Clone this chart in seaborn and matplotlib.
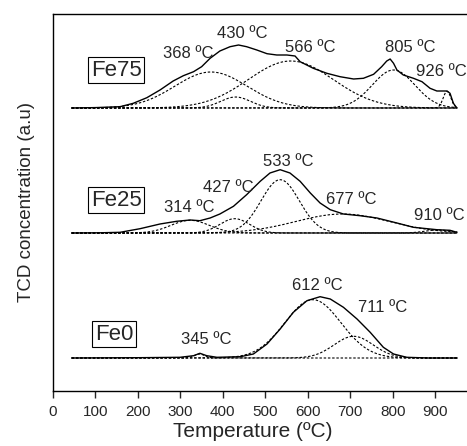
import numpy as np
import pandas as pd
import matplotlib
matplotlib.use("Agg")
import matplotlib.pyplot as plt
import seaborn as sns

# ---------------- data ----------------
samples = ["Fe0", "Fe25", "Fe75"]
offsets = {"Fe0": 33, "Fe25": 158, "Fe75": 283}

# measured (total) TCD profiles: temperature (ºC) and signal above baseline (a.u.)
fe75_T = [44, 100, 158, 189, 221, 252, 283, 307, 331, 350, 370, 393, 417, 437, 456,
          480, 504, 527, 551, 570, 582, 613, 645, 676, 708, 731, 755, 774, 786, 794,
          802, 810, 825, 849, 869, 888, 904, 928, 935, 943, 951]
fe75_h = [0, 0.4, 1.3, 4.7, 10.3, 18, 27, 32.3, 36.3, 41.3, 49.7, 57, 61.3, 63, 61.3,
          58, 54.3, 53, 53, 52, 46.3, 39.7, 34.7, 31.3, 29, 29.7, 33.7, 41.3, 47, 49,
          44.7, 38, 33, 29.7, 26.3, 19.7, 17, 17, 14.7, 4.7, 0]

fe25_T = [44, 110, 158, 205, 252, 291, 323, 346, 370, 393, 425, 456, 488, 511, 535,
          558, 582, 606, 629, 653, 684, 723, 763, 810, 849, 904, 935, 951]
fe25_h = [0, 0.2, 0.7, 4.3, 9, 11.7, 13, 12.3, 15, 19, 26.7, 38.3, 51.7, 60, 63.3,
          60, 51.7, 40, 30, 23.3, 19, 17.3, 15, 10, 5.7, 3.3, 2.7, 0.7]

fe0_T = [44, 200, 299, 331, 346, 362, 386, 441, 472, 504, 535, 566, 598, 629, 653,
         684, 716, 747, 778, 802, 833, 884, 952]
fe0_h = [0, 0.3, 0.7, 2.3, 4.7, 2.3, 0.7, 1.3, 4, 14, 29, 45.7, 57.3, 61.3, 59,
         50.7, 39, 25.7, 10.7, 4, 0.7, 0, 0]

# deconvoluted Gaussian components: centre (ºC), height (a.u.), width sigma (ºC)
fe75_centres = [372, 430, 560, 802, 928]
fe75_heights = [36, 11, 47, 38, 16.7]
fe75_sigmas = [85, 35, 100, 50, 9]

fe25_centres = [323, 428, 535, 682, 906]
fe25_heights = [12.7, 14.3, 53.3, 19, 3]
fe25_sigmas = [45, 35, 45, 110, 30]

fe0_centres = [345, 612, 708]
fe0_heights = [4, 58.3, 21.7]
fe0_sigmas = [12, 66, 46]

# peak labels: text, temperature position, height position
fe75_labels = ["368 ºC", "430 ºC", "566 ºC", "805 ºC", "926 ºC"]
fe75_lab_T = [318, 446, 606, 842, 915]
fe75_lab_y = [338, 358, 344, 343, 320]

fe25_labels = ["314 ºC", "427 ºC", "533 ºC", "677 ºC", "910 ºC"]
fe25_lab_T = [321, 413, 554, 703, 910]
fe25_lab_y = [183, 204, 229, 191, 175]

fe0_labels = ["345 ºC", "612 ºC", "711 ºC"]
fe0_lab_T = [361, 622, 776]
fe0_lab_y = [52, 106, 84]

box_T = {"Fe75": 149, "Fe25": 149, "Fe0": 144}
box_y = {"Fe75": 321, "Fe25": 191, "Fe0": 57}

x_ticks = [0, 100, 200, 300, 400, 500, 600, 700, 800, 900]

# ---------------- figure ----------------
sns.set_style("ticks")
plt.rcParams["font.family"] = ["Liberation Sans", "DejaVu Sans"]

fig = plt.figure(figsize=(4.67, 4.46), dpi=100)
ax = fig.add_axes([53 / 467, 55 / 446, 1 - 53 / 467, (391 - 14) / 446])

totals = {"Fe75": (fe75_T, fe75_h), "Fe25": (fe25_T, fe25_h), "Fe0": (fe0_T, fe0_h)}
comps = {"Fe75": (fe75_centres, fe75_heights, fe75_sigmas),
         "Fe25": (fe25_centres, fe25_heights, fe25_sigmas),
         "Fe0": (fe0_centres, fe0_heights, fe0_sigmas)}
labels = {"Fe75": (fe75_labels, fe75_lab_T, fe75_lab_y),
          "Fe25": (fe25_labels, fe25_lab_T, fe25_lab_y),
          "Fe0": (fe0_labels, fe0_lab_T, fe0_lab_y)}

grid = np.arange(44, 953, 2.0)
for s in samples:
    off = offsets[s]
    c, h, sg = comps[s]
    for ci, hi, si in zip(c, h, sg):
        yy = off + hi * np.exp(-(grid - ci) ** 2 / (2 * si ** 2))
        df = pd.DataFrame({"T": grid, "y": yy})
        sns.lineplot(data=df, x="T", y="y", ax=ax, color="black", lw=0.8,
                     linestyle=(0, (2.2, 1.6)), estimator=None, sort=False)
    T, hv = totals[s]
    df = pd.DataFrame({"T": T, "y": np.array(hv) + off})
    sns.lineplot(data=df, x="T", y="y", ax=ax, color="black", lw=1.0,
                 estimator=None, sort=False)
    for txt, tx, ty in zip(*labels[s]):
        ax.text(tx, ty, txt, ha="center", va="center", fontsize=12)
    ax.text(box_T[s], box_y[s], s, ha="center", va="center", fontsize=16,
            bbox=dict(boxstyle="square,pad=0.12", fc="white", ec="black", lw=0.8))

ax.set_xlim(0, 975)
ax.set_ylim(0, 377)
ax.set_xticks(x_ticks)
ax.set_yticks([])
ax.tick_params(axis="x", labelsize=11, length=5, width=1, direction="out", pad=5)
ax.set_xlabel("Temperature (ºC)", fontsize=15)
ax.xaxis.set_label_coords(0.483, -0.083)
ax.set_ylabel("TCD concentration (a.u)", fontsize=13.5, labelpad=13)
ax.spines["right"].set_visible(False)
for sp in ["left", "top", "bottom"]:
    ax.spines[sp].set_linewidth(1.0)
    ax.spines[sp].set_color("black")

fig.savefig("out.png", dpi=100)
